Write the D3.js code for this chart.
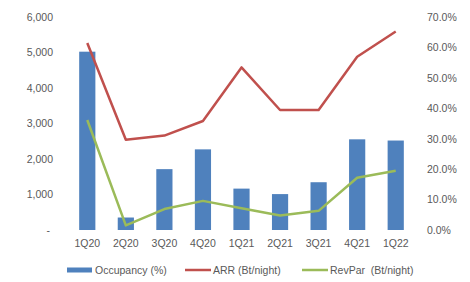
<!DOCTYPE html>
<html>
<head>
<meta charset="utf-8">
<script src="https://cdn.jsdelivr.net/npm/d3@7"></script>
<style>
  body { margin: 0; background: #fff; }
  text { font-family: "Liberation Sans", Arial, sans-serif; fill: #595959; }
</style>
</head>
<body>
<div id="chart"></div>
<script>
// data
const quarters = ['1Q20', '2Q20', '3Q20', '4Q20', '1Q21', '2Q21', '3Q21', '4Q21', '1Q22']
const occupancy = [58.6, 4.1, 20.0, 26.5, 13.6, 11.8, 15.7, 29.8, 29.4]   // %
const arr = [5270, 2540, 2660, 3070, 4580, 3380, 3380, 4880, 5590]        // Bt/night
const revpar = [3100, 130, 590, 820, 610, 410, 540, 1470, 1670]           // Bt/night
const leftTicks = [0, 1000, 2000, 3000, 4000, 5000, 6000]
const rightTicks = [0, 10, 20, 30, 40, 50, 60, 70]

const W = 470
const H = 282
const plot = {left: 68, right: 415, top: 17, bottom: 230}
const fontSize = 10.5

const svg = d3.select('#chart')
  .append('svg')
  .attr('width', W)
  .attr('height', H)

// scales
const xs = d3.scaleBand()
  .domain(quarters)
  .range([plot.left, plot.right])
  .paddingInner(0.58)
  .paddingOuter(0.29)
const yl = d3.scaleLinear().domain([0, 6000]).range([plot.bottom, plot.top])
const yr = d3.scaleLinear().domain([0, 70]).range([plot.bottom, plot.top])
const cx = (q) => xs(q) + xs.bandwidth() / 2

// bars (right axis, %)
svg.selectAll('.bar')
  .data(quarters)
  .enter()
  .append('rect')
  .attr('class', 'bar')
  .attr('x', (q) => xs(q))
  .attr('width', xs.bandwidth())
  .attr('y', (q, i) => yr(occupancy[i]))
  .attr('height', (q, i) => yr(0) - yr(occupancy[i]))
  .attr('fill', '#4f81bd')

// lines (left axis, Bt/night)
const line = d3.line()
  .x((d, i) => cx(quarters[i]))
  .y((d) => yl(d))

svg.append('path')
  .attr('d', line(arr))
  .attr('fill', 'none')
  .attr('stroke', '#c0504d')
  .attr('stroke-width', 2.5)
  .attr('stroke-linejoin', 'round')

svg.append('path')
  .attr('d', line(revpar))
  .attr('fill', 'none')
  .attr('stroke', '#9bbb59')
  .attr('stroke-width', 2.5)
  .attr('stroke-linejoin', 'round')

// axes
const leftAxis = svg.append('g')
  .attr('transform', `translate(${plot.left - 6},0)`)
  .call(d3.axisLeft(yl).tickValues(leftTicks).tickSize(0).tickPadding(9)
    .tickFormat((d) => d === 0 ? '-' : d3.format(',')(d)))
const rightAxis = svg.append('g')
  .attr('transform', `translate(${plot.right + 3},0)`)
  .call(d3.axisRight(yr).tickValues(rightTicks).tickSize(0).tickPadding(9)
    .tickFormat((d) => d.toFixed(1) + '%'))
const bottomAxis = svg.append('g')
  .attr('transform', `translate(0,${plot.bottom + 4})`)
  .call(d3.axisBottom(xs).tickSize(0).tickPadding(6))

for (const ax of [leftAxis, rightAxis, bottomAxis]) {
  ax.select('.domain').remove()
  ax.selectAll('text')
    .style('font-size', fontSize + 'px')
    .style('font-family', '"Liberation Sans", Arial, sans-serif')
    .attr('fill', '#595959')
}
leftAxis.selectAll('text').attr('dx', (d) => d === 0 ? -3 : 0)

// legend
const legendY = 270
const legend = [
  {label: 'Occupancy (%)', color: '#4f81bd', x: 67, type: 'rect'},
  {label: 'ARR (Bt/night)', color: '#c0504d', x: 185, type: 'line'},
  {label: 'RevPar  (Bt/night)', color: '#9bbb59', x: 302, type: 'line'}
]
const lg = svg.selectAll('.legend')
  .data(legend)
  .enter()
  .append('g')
  .attr('class', 'legend')
  .attr('transform', (d) => `translate(${d.x},${legendY})`)
lg.filter((d) => d.type === 'rect')
  .append('rect')
  .attr('x', 0)
  .attr('y', -2.5)
  .attr('width', 25)
  .attr('height', 5)
  .attr('fill', (d) => d.color)
lg.filter((d) => d.type === 'line')
  .append('line')
  .attr('x1', 0)
  .attr('x2', 26)
  .attr('stroke', (d) => d.color)
  .attr('stroke-width', 2.5)
lg.append('text')
  .attr('x', 28)
  .attr('dy', '0.35em')
  .style('font-size', fontSize + 'px')
  .style('white-space', 'pre')
  .attr('xml:space', 'preserve')
  .text((d) => d.label)
</script>
</body>
</html>
